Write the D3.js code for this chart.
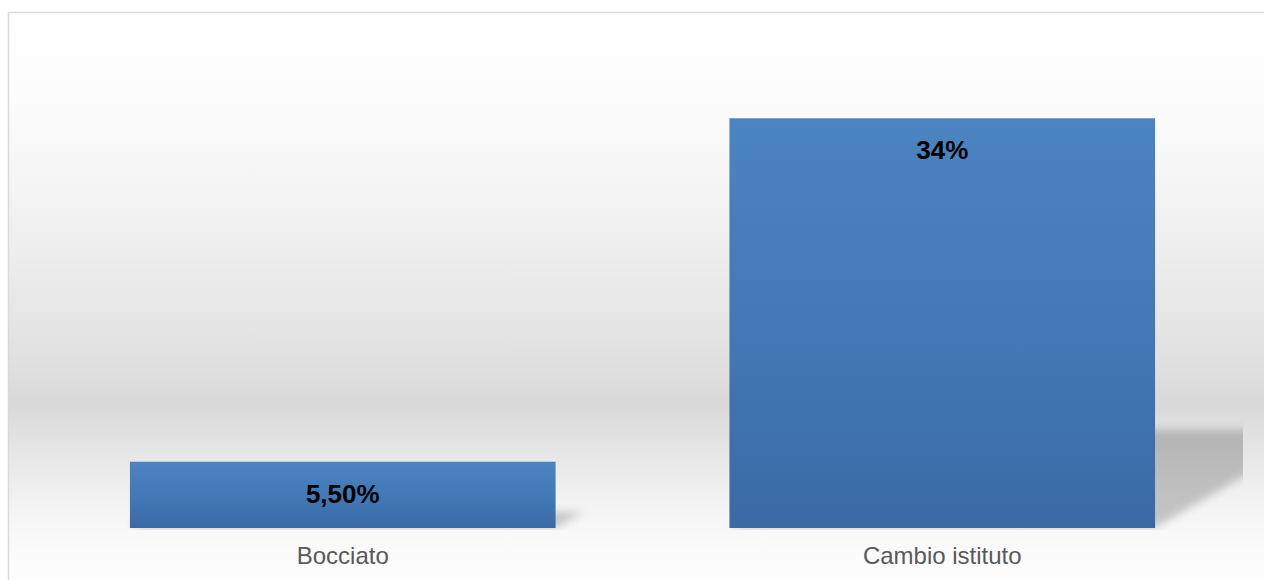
<!DOCTYPE html>
<html>
<head>
<meta charset="utf-8">
<script src="https://cdn.jsdelivr.net/npm/d3@7"></script>
<style>
  html, body { margin: 0; padding: 0; background: #ffffff; }
  svg { display: block; font-family: "Liberation Sans", Arial, sans-serif; }
</style>
</head>
<body>
<svg id="chart" width="1264" height="580"></svg>
<script>
// Categories and values (percent)
const categories = ["Bocciato", "Cambio istituto"];
const values = [5.5, 34];
const valueLabels = ["5,50%", "34%"];

const W = 1264, H = 580;
const plot = { left: 43, right: 1242, top: 46, bottom: 528 };

const svg = d3.select("#chart");
const defs = svg.append("defs");

// Chart area background: vertical grey band
const bg = defs.append("linearGradient")
  .attr("id", "bgGrad").attr("gradientUnits", "userSpaceOnUse")
  .attr("x1", 0).attr("y1", 12).attr("x2", 0).attr("y2", 600);
[
  [12, "#ffffff"], [100, "#fcfcfc"], [180, "#f5f5f5"], [250, "#eeeeee"],
  [300, "#e8e8e8"], [355, "#e1e1e1"], [405, "#d9d9d9"], [460, "#e8e8e8"],
  [500, "#f2f2f2"], [530, "#f8f8f8"], [560, "#fcfcfc"], [600, "#fefefe"]
].forEach(([y, c]) => bg.append("stop")
  .attr("offset", ((y - 12) / (600 - 12)))
  .attr("stop-color", c));

// Bar fill
const barGrad = defs.append("linearGradient")
  .attr("id", "barGrad").attr("x1", 0).attr("y1", 0).attr("x2", 0).attr("y2", 1);
barGrad.append("stop").attr("offset", 0).attr("stop-color", "#4a84c1");
barGrad.append("stop").attr("offset", 0.5).attr("stop-color", "#4279b6");
barGrad.append("stop").attr("offset", 1).attr("stop-color", "#3a6aa5");

// Soft shadow blur
defs.append("filter").attr("id", "shadowBlur")
  .attr("x", "-20%").attr("y", "-20%").attr("width", "140%").attr("height", "140%")
  .append("feGaussianBlur").attr("stdDeviation", 4);

defs.append("clipPath").attr("id", "plotClip")
  .append("rect")
  .attr("x", plot.left).attr("y", 0)
  .attr("width", plot.right + 1 - plot.left).attr("height", plot.bottom + 2);

// Chart area frame
svg.append("rect")
  .attr("x", 8.5).attr("y", 12.5)
  .attr("width", W + 20).attr("height", H + 40)
  .attr("fill", "url(#bgGrad)")
  .attr("stroke", "#d9d9d9").attr("stroke-width", 1.5);

const x = d3.scaleBand()
  .domain(categories)
  .range([plot.left, plot.right])
  .paddingInner(0.29)
  .paddingOuter(0.145);

const y = d3.scaleLinear()
  .domain([0, 40])
  .range([plot.bottom, plot.top]);

const data = categories.map((c, i) => ({ cat: c, value: values[i], label: valueLabels[i] }));

// Perspective shadows cast up and to the right of each bar
const skewX = 0.41, skewY = 0.24;
svg.append("g")
  .attr("clip-path", "url(#plotClip)")
  .append("g")
  .attr("filter", "url(#shadowBlur)")
  .selectAll("polygon")
  .data(data)
  .join("polygon")
  .attr("fill", "#000")
  .attr("fill-opacity", 0.2)
  .attr("points", d => {
    const x0 = x(d.cat), x1 = x0 + x.bandwidth();
    const yb = y(0), h = y(0) - y(d.value);
    return [
      [x0, yb], [x1, yb],
      [x1 + skewX * h, yb - skewY * h],
      [x0 + skewX * h, yb - skewY * h]
    ].map(p => p.join(",")).join(" ");
  });

// Category axis (labels only)
const axis = svg.append("g")
  .attr("transform", `translate(0,${plot.bottom})`)
  .call(d3.axisBottom(x).tickSize(0).tickSizeOuter(0).tickPadding(19));
axis.select(".domain").remove();
axis.selectAll("text")
  .attr("font-family", "'Liberation Sans', Arial, sans-serif")
  .attr("font-size", 24)
  .attr("fill", "#595959");

// Bars
svg.append("g")
  .selectAll("rect")
  .data(data)
  .join("rect")
  .attr("x", d => x(d.cat))
  .attr("y", d => y(d.value))
  .attr("width", x.bandwidth())
  .attr("height", d => y(0) - y(d.value))
  .attr("fill", "url(#barGrad)");

// Value labels at the inside top of each bar
svg.append("g")
  .selectAll("text")
  .data(data)
  .join("text")
  .attr("x", d => x(d.cat) + x.bandwidth() / 2)
  .attr("y", d => y(d.value) + 41)
  .attr("text-anchor", "middle")
  .attr("font-size", 26)
  .attr("font-weight", "bold")
  .attr("fill", "#000")
  .text(d => d.label);
</script>
</body>
</html>
